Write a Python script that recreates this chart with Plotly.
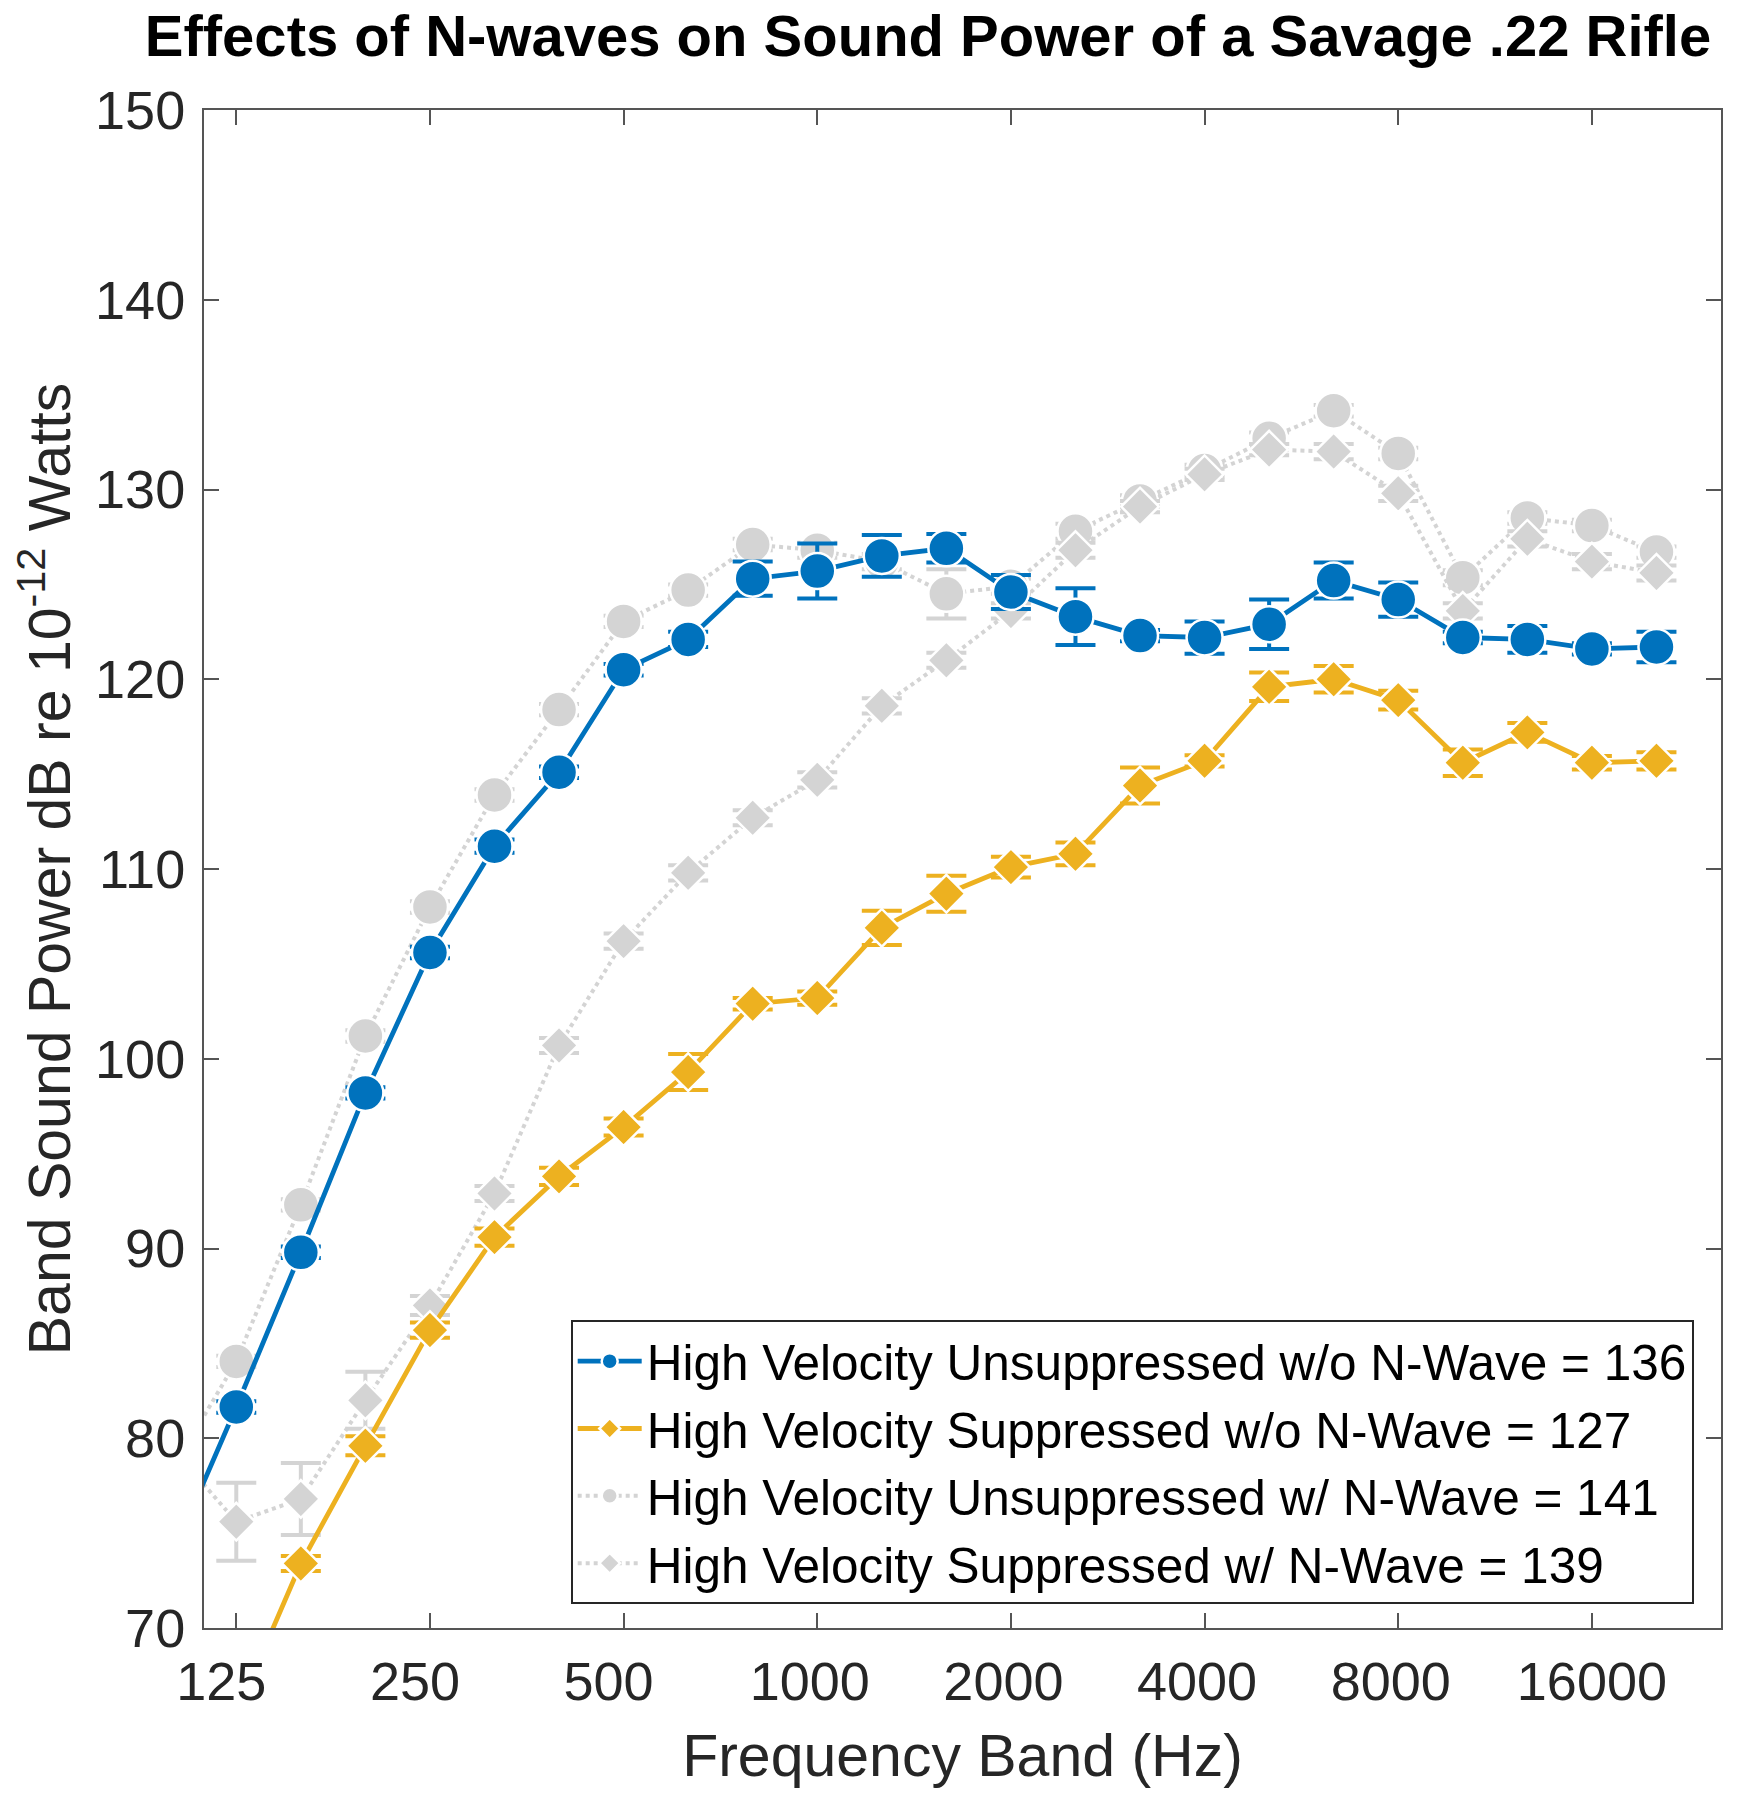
import math
import plotly.graph_objects as go

# ---------------- data ----------------
bands = ["100", "125", "160", "200", "250", "315", "400", "500", "630", "800", "1000",
         "1250", "1600", "2000", "2500", "3150", "4000", "5000", "6300", "8000",
         "10000", "12500", "16000", "20000"]

hv_unsup_wo = [73.8, 81.65, 89.8, 98.2, 105.6, 111.2, 115.1, 120.5, 122.1, 125.3, 125.7,
               126.5, 126.9, 124.6, 123.3, 122.3, 122.2, 122.9, 125.2, 124.2,
               122.2, 122.1, 121.6, 121.7]
hv_unsup_wo_err = [0.3, 0.3, 0.3, 0.3, 0.3, 0.35, 0.3, 0.3, 0.4, 0.9, 1.45,
                   1.1, 0.75, 0.9, 1.5, 0.3, 0.85, 1.3, 0.95, 0.9,
                   0.3, 0.7, 0.3, 0.8]

hv_sup_wo = [None, 65.5, 73.4, 79.6, 85.7, 90.6, 93.8, 96.4, 99.3, 102.9, 103.2,
             106.9, 108.7, 110.1, 110.8, 114.4, 115.7, 119.6, 120.0, 118.9,
             115.6, 117.2, 115.6, 115.7]
hv_sup_wo_err = [None, 0.5, 0.4, 0.5, 0.4, 0.45, 0.45, 0.45, 0.95, 0.3, 0.35,
                 0.9, 0.95, 0.55, 0.6, 0.95, 0.3, 0.75, 0.7, 0.5,
                 0.7, 0.5, 0.35, 0.45]

hv_unsup_w = [78.3, 84.05, 92.3, 101.2, 108.0, 113.9, 118.4, 123.05, 124.7, 127.1, 126.8,
              126.2, 124.5, 124.9, 127.8, 129.4, 131.0, 132.7, 134.15, 131.9,
              125.35, 128.5, 128.1, 126.7]
hv_unsup_w_err = [0.3, 0.3, 0.3, 0.3, 0.3, 0.3, 0.3, 0.3, 0.3, 0.3, 0.4,
                  0.4, 1.3, 0.4, 0.4, 0.3, 0.3, 0.3, 0.3, 0.3,
                  0.4, 0.3, 0.3, 0.3]

hv_sup_w = [79.5, 75.6, 76.8, 82.0, 87.0, 92.9, 100.7, 106.2, 109.8, 112.7, 114.7,
            118.6, 121.0, 123.6, 126.8, 129.1, 130.8, 132.1, 132.0, 129.8,
            123.6, 127.4, 126.2, 125.6]
hv_sup_w_err = [0.5, 2.05, 1.9, 1.5, 0.5, 0.4, 0.4, 0.4, 0.4, 0.4, 0.4,
                0.4, 0.4, 0.4, 0.4, 0.3, 0.3, 0.3, 0.4, 0.4,
                0.4, 0.4, 0.4, 0.4]

series_names = ["High Velocity Unsuppressed w/o N-Wave = 136",
                "High Velocity Suppressed w/o N-Wave = 127",
                "High Velocity Unsuppressed w/ N-Wave = 141",
                "High Velocity Suppressed w/ N-Wave = 139"]

tick_labels = ["125", "250", "500", "1000", "2000", "4000", "8000", "16000"]

# exact 1/3-octave band centres (band "1000" is the reference)
ref_idx = bands.index("1000")
freqs = [1000 * 2 ** ((i - ref_idx) / 3) for i in range(len(bands))]

BLUE = "#0072BD"
ORANGE = "#EDB120"
GRAY = "#D4D4D4"
FONT = "Liberation Sans, Arial, Helvetica, sans-serif"

fig = go.Figure()


def add(y, err, name, color, symbol, size, dash, lw, rank):
    fig.add_trace(go.Scatter(
        x=freqs, y=y, name=name, mode="lines+markers",
        customdata=bands,
        line=dict(color=color, width=lw, dash=dash),
        marker=dict(symbol=symbol, size=size, color=color,
                    line=dict(color="white", width=2.5)),
        error_y=dict(type="data", array=err, visible=True, color=color,
                     thickness=4, width=20),
        legendrank=rank,
    ))


# drawing order: grey series underneath
add(hv_unsup_w, hv_unsup_w_err, series_names[2], GRAY, "circle", 36, "dot", 4, 3)
add(hv_sup_w, hv_sup_w_err, series_names[3], GRAY, "diamond", 29, "dot", 4, 4)
add(hv_unsup_wo, hv_unsup_wo_err, series_names[0], BLUE, "circle", 36, "solid", 4.8, 1)
add(hv_sup_wo, hv_sup_wo_err, series_names[1], ORANGE, "diamond", 29, "solid", 4.8, 2)

lo = math.log10(125) - 0.5 * math.log10(2) / 3
hi = math.log10(125) + 23 * math.log10(2) / 3

axis_color = "#555555"
tick_font = dict(family=FONT, size=54, color="#262626")

fig.update_layout(
    width=1761, height=1800,
    margin=dict(l=196, r=48, t=102, b=180, autoexpand=False),
    paper_bgcolor="white", plot_bgcolor="white",
    title=dict(text="<b>Effects of N-waves on Sound Power of a Savage .22 Rifle</b>",
               font=dict(family=FONT, size=58, color="black"),
               x=920 / 1761, xref="container", xanchor="center",
               y=1 - 28 / 1800, yref="container", yanchor="middle"),
    showlegend=True,
    legend=dict(x=0.982, y=0.0155, xanchor="right", yanchor="bottom",
                bgcolor="white", bordercolor="#262626", borderwidth=2,
                font=dict(family=FONT, size=49.5, color="black"),
                itemwidth=64, tracegroupgap=0),
)

fig.update_xaxes(
    type="log", range=[lo, hi],
    tickmode="array", tickvals=[float(t) for t in tick_labels],
    ticktext=[t + "\u00a0" * (5 - len(t)) for t in tick_labels],
    ticks="inside", ticklen=15, tickwidth=2, tickcolor=axis_color,
    showline=True, linecolor=axis_color, linewidth=2, mirror="allticks",
    showgrid=False, zeroline=False, automargin=False,
    tickfont=tick_font, ticklabelstandoff=5,
    title=dict(text="Frequency Band (Hz)", font=dict(family=FONT, size=59, color="#262626"),
               standoff=25),
)
fig.update_yaxes(
    range=[70, 150], dtick=10, tick0=70,
    ticks="inside", ticklen=15, tickwidth=2, tickcolor=axis_color,
    showline=True, linecolor=axis_color, linewidth=2, mirror="allticks",
    showgrid=False, zeroline=False, automargin=False,
    tickfont=tick_font, ticklabelstandoff=6,
    title=dict(text="Band Sound Power dB re 10<sup>-12</sup> Watts",
               font=dict(family=FONT, size=59, color="#262626"), standoff=10),
)

fig.write_html("out.html")
